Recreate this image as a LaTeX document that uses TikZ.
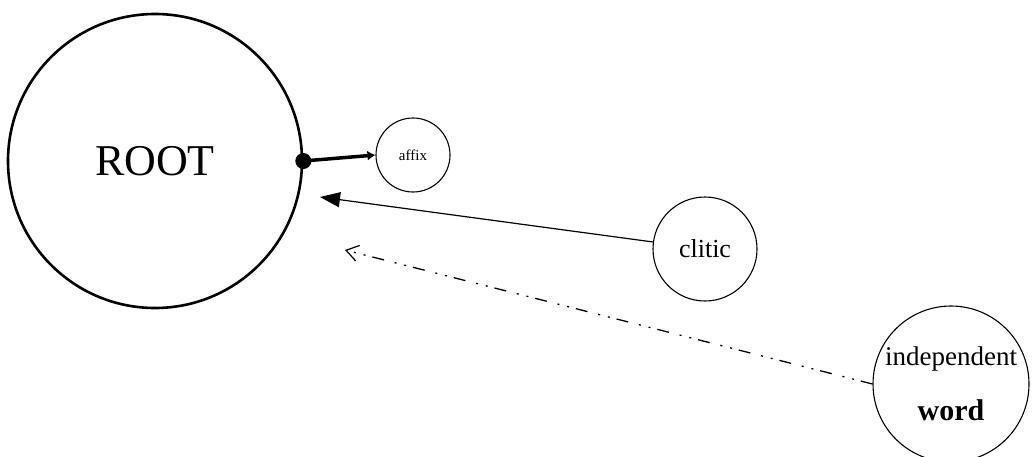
\documentclass[tikz,border=0pt]{standalone}
\usepackage{fontspec}
\setmainfont{Liberation Serif}
\usetikzlibrary{arrows.meta}
\begin{document}
\begin{tikzpicture}[x=1pt,y=-1pt,
  bigcirc/.style={circle,draw,line width=2.6pt,inner sep=0pt},
  smallcirc/.style={circle,draw,line width=1.1pt,inner sep=0pt,align=center},
  dashdotdot/.style={dash pattern=on 12pt off 7pt on 2pt off 8pt on 2pt off 11pt}]
\useasboundingbox (0,0) rectangle (1032,456);
\node[bigcirc,minimum size=294pt,font=\fontsize{44}{48}\selectfont] (root) at (155,161) {ROOT};
\node[smallcirc,minimum size=74pt,font=\fontsize{15}{18}\selectfont] (affix) at (413,155) {affix};
\node[smallcirc,minimum size=104pt,font=\fontsize{26}{30}\selectfont] (clitic) at (705,249) {clitic};
\node[smallcirc,minimum size=156pt,font=\fontsize{27}{33}\selectfont] (word) at (951,384) {independent\\[22pt]{\fontsize{30}{33}\selectfont\bfseries word}};
\coordinate (cend) at (320,197);
\coordinate (wend) at (345,250);
\fill (root.east) circle (8pt);
\draw[line width=3.5pt,-{Latex[length=8pt,width=10pt]}] (root.east) -- (affix.west);
\draw[line width=1.2pt,-{Triangle[length=20pt,width=15pt]}] (clitic) -- (cend);
\draw[line width=1.3pt,dashdotdot,-{Straight Barb[length=12pt,width=16pt,line width=1.2pt]}] (word.west) -- (wend);
\end{tikzpicture}
\end{document}
